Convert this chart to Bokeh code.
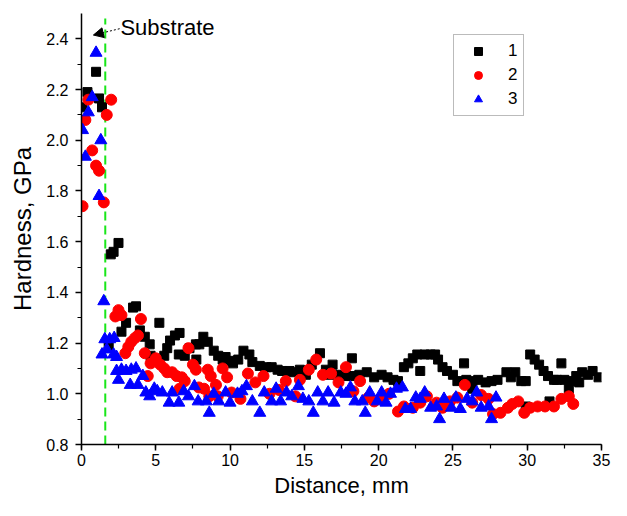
from bokeh.plotting import figure
from bokeh.embed import file_html
from bokeh.resources import INLINE
from bokeh.models import (Arrow, NormalHead, Legend, LegendItem, Label,
                          SingleIntervalTicker, NumeralTickFormatter)

# ---- data ----
x1 = [0.07, 0.40, 0.98, 1.18, 1.38, 1.83, 1.97, 2.16, 2.49, 2.69, 3.0, 3.47, 3.67, 3.93,
      4.26, 4.59, 4.65, 5.24, 5.57, 5.77, 5.96, 6.29, 6.6, 6.55, 6.95, 7.27, 7.7, 7.73,
      7.93, 8.2, 8.5, 8.9, 9.2, 9.5, 9.7, 10.1, 10.55, 10.2, 10.9, 11.3, 11.5, 12.0,
      12.45, 12.8, 13.2, 13.5, 14.0, 14.3, 14.7, 15.1, 15.5, 16.05, 16.45, 16.9, 16.7,
      17.4, 17.8, 18.2, 18.2, 18.7, 19.2, 19.7, 20.2, 20.6, 21.0, 21.3, 21.7, 22.0,
      22.3, 22.6, 22.8, 23.1, 23.5, 23.8, 24.0, 24.3, 24.6, 25.0, 25.3, 25.75, 25.9,
      26.3, 26.3, 26.7, 27.2, 27.6, 28.0, 28.6, 28.9, 29.2, 29.6, 29.9, 29.9, 30.2,
      30.5, 30.8, 31.1, 31.4, 31.5, 31.8, 32.0, 32.3, 32.5, 32.8, 33.0, 33.3, 33.5,
      33.7, 34.1, 34.4, 34.8]
y1 = [2.13, 2.19, 2.27, 2.165, 2.13, 1.185, 1.55, 1.56, 1.595, 1.245, 1.28, 1.34, 1.345, 1.25,
      1.225, 1.195, 1.15, 1.28, 1.15, 1.18, 1.21, 1.23, 1.24, 1.155, 1.15, 1.18, 1.195, 1.135,
      1.195, 1.225, 1.205, 1.17, 1.15, 1.135, 1.145, 1.13, 1.135, 1.12, 1.17, 1.155, 1.125, 1.11,
      1.105, 1.105, 1.095, 1.09, 1.09, 1.085, 1.095, 1.075, 1.115, 1.16, 1.095, 1.115, 1.075,
      1.075, 1.07, 1.14, 1.07, 1.075, 1.085, 1.065, 1.075, 1.065, 1.055, 1.05, 1.105, 1.12,
      1.14, 1.155, 1.09, 1.155, 1.155, 1.155, 1.135, 1.105, 1.09, 1.075, 1.05, 1.12, 1.055,
      1.05, 1.02, 1.055, 1.045, 1.05, 1.055, 1.085, 1.065, 1.085, 1.05, 1.05, 0.95, 1.155,
      1.135, 1.115, 1.09, 1.07, 0.97, 1.055, 1.055, 1.12, 1.055, 1.02, 1.05, 1.07, 1.045,
      1.085, 1.075, 1.09, 1.065]

x2 = [0.07, 0.26, 0.46, 0.72, 0.98, 1.18, 1.5, 1.7, 2.0, 2.28, 2.49, 2.69, 2.95, 3.15, 3.35,
      3.6, 3.8, 4.0, 4.26, 4.46, 4.65, 5.0, 5.3, 5.57, 5.77, 6.1, 6.4, 6.6, 6.75, 6.95, 7.2,
      7.5, 7.7, 7.9, 8.25, 8.5, 8.6, 8.7, 9.05, 9.17, 9.5, 9.8, 10.1, 10.7, 11.2, 11.7, 12.25,
      12.65, 13.3, 13.75, 14.4, 14.7, 15.3, 15.8, 16.25, 16.8, 17.3, 17.8, 18.3, 18.75, 19.3,
      19.7, 20.2, 20.7, 21.3, 21.7, 22.3, 22.8, 23.25, 23.9, 24.3, 24.8, 25.3, 25.8, 26.3,
      26.9, 27.4, 27.7, 28.2, 28.7, 29.0, 29.4, 29.8, 30.2, 30.7, 31.2, 31.8, 32.3, 32.8, 33.1]
y2 = [1.74, 2.08, 2.16, 1.96, 1.90, 1.88, 1.755, 2.10, 2.16, 1.305, 1.33, 1.31, 1.16, 1.185, 1.205,
      1.22, 1.23, 1.295, 1.16, 1.07, 1.12, 1.14, 1.115, 1.10, 1.085, 1.085, 1.07, 1.02, 1.065, 1.05, 1.18,
      1.115, 1.095, 1.025, 1.02, 1.095, 0.99, 1.07, 1.035, 0.99, 1.10, 1.065, 1.005, 0.98, 1.08, 1.045, 1.07,
      1.0, 1.015, 1.05, 0.99, 1.055, 1.095, 1.135, 1.075, 1.08, 1.045, 1.105, 1.01, 1.05, 0.985,
      0.97, 0.98, 1.0, 0.93, 0.95, 0.945, 0.965, 0.99, 0.965, 0.945, 0.97, 0.985, 1.035, 0.965,
      0.995, 0.98, 0.92, 0.925, 0.945, 0.96, 0.97, 0.925, 0.945, 0.95, 0.95, 0.95, 0.98, 0.99, 0.96]

x3 = [0.07, 0.26, 0.46, 0.72, 0.98, 1.18, 1.3, 1.38, 1.5, 1.57, 1.7, 1.9, 2.16, 2.2, 2.36, 2.36,
      2.49, 2.69, 3.0, 3.28, 3.35, 3.67, 3.8, 4.13, 4.33, 4.59, 4.9, 5.1, 5.44, 5.9, 6.1, 6.55,
      6.88, 7.2, 7.6, 7.85, 8.4, 8.6, 8.9, 9.24, 9.7, 10.0, 10.5, 10.8, 11.1, 11.5, 12.0, 12.3,
      12.8, 13.1, 13.4, 13.8, 14.15, 14.6, 14.9, 15.3, 15.6, 15.9, 16.25, 16.6, 17.0, 17.45,
      17.8, 18.1, 18.4, 18.9, 19.1, 19.4, 19.9, 20.2, 20.5, 20.8, 21.2, 21.6, 21.8, 22.15, 22.5,
      22.8, 23.1, 23.5, 23.9, 24.1, 24.4, 24.9, 25.2, 25.5, 25.95, 26.3, 26.6, 26.9, 27.4, 27.6,
      27.9]
y3 = [2.04, 1.935, 2.11, 2.17, 2.345, 1.78, 2.0, 1.155, 1.365, 1.215, 1.175, 1.215, 1.155, 1.22, 1.145, 1.09,
      1.055, 1.095, 1.09, 1.035, 1.095, 1.10, 1.035, 1.07, 1.005, 0.99, 1.02, 1.01, 1.005, 0.965, 1.005, 0.965,
      1.01, 0.99, 1.03, 0.97, 0.97, 0.925, 1.0, 0.97, 1.005, 0.965, 1.0, 1.01, 1.03, 0.97, 0.925, 1.005,
      0.97, 1.02, 0.97, 1.005, 0.99, 1.03, 0.98, 0.97, 0.925, 1.005, 0.97, 1.005, 0.965, 1.005,
      1.0, 1.025, 0.97, 0.97, 0.925, 1.005, 0.97, 1.005, 0.965, 1.0, 1.02, 1.025, 0.94, 0.94, 0.985,
      0.98, 1.005, 0.945, 0.95, 0.9, 0.98, 0.945, 0.985, 0.94, 0.98, 0.97, 1.005, 0.945, 0.95, 0.9,
      0.985]

series_labels = ["1", "2", "3"]
substrate_x = 1.6
substrate_line_y = [0.8, 2.48]
note_text = "Substrate"
note_pos = (2.62, 2.445)
arrow_end = (0.8, 2.415)

FONT = "Liberation Sans"

p = figure(width=611, height=500, x_range=(0, 35), y_range=(0.8, 2.5),
           output_backend="svg", toolbar_location=None,
           min_border_left=81, min_border_right=10, min_border_top=13, min_border_bottom=56)
p.outline_line_color = None
p.grid.visible = False
p.background_fill_color = "white"
p.border_fill_color = "white"

p.xaxis.ticker = SingleIntervalTicker(interval=5, num_minor_ticks=2)
p.yaxis.ticker = SingleIntervalTicker(interval=0.2, num_minor_ticks=2)
p.yaxis.formatter = NumeralTickFormatter(format="0.0")
p.xaxis.axis_label = "Distance, mm"
p.yaxis.axis_label = "Hardness, GPa"
for ax in (p.xaxis, p.yaxis):
    ax.axis_line_width = 1.5
    ax.axis_line_color = "black"
    ax.major_tick_line_color = "black"
    ax.minor_tick_line_color = "black"
    ax.major_tick_line_width = 1.5
    ax.minor_tick_line_width = 1.2
    ax.major_tick_in = 0
    ax.major_tick_out = 6
    ax.minor_tick_in = 0
    ax.minor_tick_out = 4
    ax.major_label_text_font = FONT
    ax.major_label_text_font_size = "16px"
    ax.major_label_text_color = "black"
    ax.axis_label_text_font = FONT
    ax.axis_label_text_font_style = "normal"
    ax.axis_label_text_color = "black"
p.xaxis.major_label_standoff = 3
p.xaxis.axis_label_standoff = 4
p.yaxis.major_label_standoff = 7
p.yaxis.axis_label_standoff = 7
p.xaxis.axis_label_text_font_size = "22px"
p.yaxis.axis_label_text_font_size = "24px"

# substrate line
p.line([substrate_x, substrate_x], substrate_line_y, line_color="#19e619",
       line_width=2, line_dash="9 5")

r1 = p.scatter(x1, y1, marker="square", size=9, fill_color="black", line_color="black")
r2 = p.scatter(x2, y2, marker="circle", size=11, fill_color="#ff0000", line_color="#ff0000")
r3 = p.scatter(x3, y3, marker="triangle", size=12, fill_color="#0000ff", line_color="#0000ff")

p.add_layout(Label(x=note_pos[0], y=note_pos[1], text=note_text, text_font=FONT,
                   text_font_size="22px", text_baseline="middle", text_align="left",
                   text_color="black"))
p.add_layout(Arrow(end=NormalHead(size=10, fill_color="black", line_color="black"),
                   x_start=note_pos[0] - 0.05, y_start=note_pos[1] - 0.005,
                   x_end=arrow_end[0], y_end=arrow_end[1],
                   line_color="black", line_width=1, line_dash="2 2"))

legend = Legend(items=[LegendItem(label=series_labels[0], renderers=[r1]),
                       LegendItem(label=series_labels[1], renderers=[r2]),
                       LegendItem(label=series_labels[2], renderers=[r3])],
                location=(372, 328))
legend.label_text_font = FONT
legend.label_text_font_size = "17px"
legend.label_text_color = "black"
legend.border_line_color = "#777777"
legend.border_line_width = 1.5
legend.background_fill_alpha = 1
legend.padding = 6
legend.spacing = 4
legend.label_height = 20
legend.label_width = 9
legend.glyph_height = 20
legend.glyph_width = 36
legend.label_standoff = 12
legend.margin = 0
p.add_layout(legend)

open("out.html", "w").write(file_html(p, INLINE))
